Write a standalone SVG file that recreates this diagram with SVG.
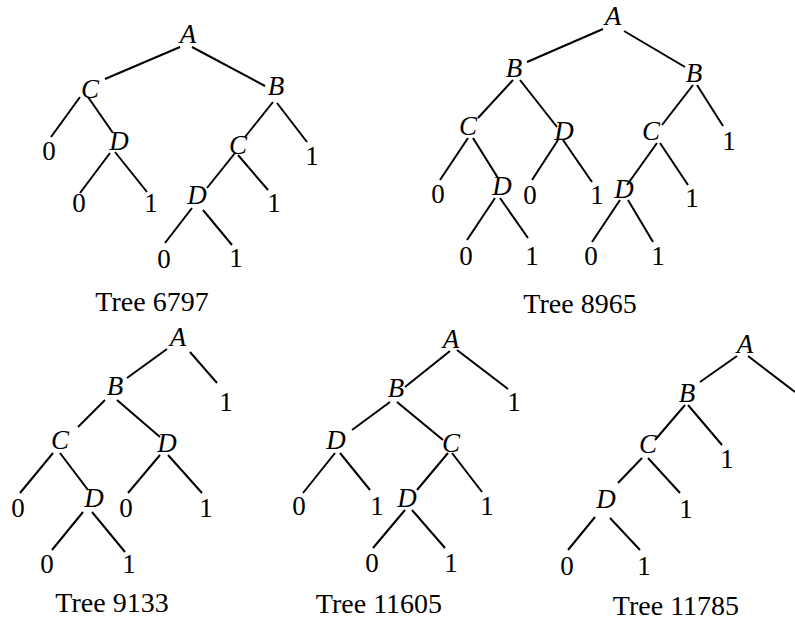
<svg xmlns="http://www.w3.org/2000/svg" width="795" height="623" viewBox="0 0 795 623">
<style>
.e{stroke:#000;stroke-width:2;fill:none;stroke-linecap:butt}
.v{font-family:"Liberation Serif","Times New Roman",serif;font-style:italic;font-size:27px;text-anchor:middle;fill:#000}
.l{font-family:"Liberation Serif","Times New Roman",serif;font-size:27px;text-anchor:middle;fill:#000}
.c{font-family:"Liberation Serif","Times New Roman",serif;font-size:28px;text-anchor:middle;fill:#000}
</style>
<rect width="795" height="623" fill="#fff"/>
<g id="connectors" class="e">
<!-- Tree 6797 -->
<line x1="180" y1="47" x2="105" y2="79"/>
<line x1="192" y1="47" x2="265" y2="86"/>
<line x1="80" y1="97" x2="51" y2="137"/>
<line x1="88" y1="97" x2="113" y2="133"/>
<line x1="110" y1="153" x2="80" y2="193"/>
<line x1="115" y1="152" x2="147" y2="192"/>
<line x1="273" y1="102" x2="245" y2="137"/>
<line x1="277" y1="103" x2="307" y2="142"/>
<line x1="235" y1="153" x2="207" y2="188"/>
<line x1="238" y1="155" x2="268" y2="190"/>
<line x1="192" y1="208" x2="165" y2="243"/>
<line x1="203" y1="210" x2="232" y2="245"/>
<!-- Tree 8965 -->
<line x1="603" y1="29" x2="527" y2="62"/>
<line x1="624" y1="31" x2="685" y2="67"/>
<line x1="513" y1="80" x2="478" y2="118"/>
<line x1="520" y1="80" x2="557" y2="127"/>
<line x1="468" y1="138" x2="440" y2="180"/>
<line x1="473" y1="138" x2="498" y2="178"/>
<line x1="558" y1="140" x2="532" y2="180"/>
<line x1="563" y1="140" x2="592" y2="182"/>
<line x1="495" y1="198" x2="467" y2="240"/>
<line x1="500" y1="198" x2="528" y2="238"/>
<line x1="693" y1="85" x2="662" y2="125"/>
<line x1="697" y1="85" x2="723" y2="126"/>
<line x1="657" y1="143" x2="627" y2="185"/>
<line x1="660" y1="143" x2="688" y2="185"/>
<line x1="620" y1="200" x2="592" y2="242"/>
<line x1="628" y1="200" x2="653" y2="242"/>
<!-- Tree 9133 -->
<line x1="167" y1="349" x2="127" y2="378"/>
<line x1="190" y1="352" x2="217" y2="383"/>
<line x1="105" y1="400" x2="78" y2="427"/>
<line x1="117" y1="400" x2="160" y2="437"/>
<line x1="53" y1="453" x2="20" y2="493"/>
<line x1="60" y1="453" x2="88" y2="490"/>
<line x1="160" y1="455" x2="128" y2="493"/>
<line x1="168" y1="455" x2="202" y2="493"/>
<line x1="83" y1="512" x2="52" y2="550"/>
<line x1="92" y1="512" x2="125" y2="552"/>
<!-- Tree 11605 -->
<line x1="450" y1="351" x2="405" y2="387"/>
<line x1="457" y1="350" x2="508" y2="389"/>
<line x1="390" y1="402" x2="352" y2="430"/>
<line x1="397" y1="402" x2="443" y2="440"/>
<line x1="335" y1="453" x2="303" y2="493"/>
<line x1="340" y1="453" x2="370" y2="490"/>
<line x1="448" y1="453" x2="417" y2="490"/>
<line x1="452" y1="453" x2="482" y2="492"/>
<line x1="405" y1="510" x2="373" y2="548"/>
<line x1="412" y1="510" x2="445" y2="548"/>
<!-- Tree 11785 -->
<line x1="737" y1="356" x2="700" y2="382"/>
<line x1="748" y1="356" x2="795" y2="392"/>
<line x1="685" y1="405" x2="655" y2="440"/>
<line x1="688" y1="405" x2="722" y2="445"/>
<line x1="642" y1="458" x2="618" y2="483"/>
<line x1="648" y1="458" x2="680" y2="493"/>
<line x1="595" y1="517" x2="568" y2="550"/>
<line x1="610" y1="518" x2="640" y2="550"/>
</g>
<g id="tree6797">
<g id="t1-A"><text class="v" x="188" y="43">A</text></g>
<g id="t1-C1"><text class="v" x="90" y="98">C</text></g>
<g id="t1-B"><text class="v" x="276" y="95">B</text></g>
<g id="t1-0a"><text class="l" x="49" y="160">0</text></g>
<g id="t1-D1"><text class="v" x="119" y="150">D</text></g>
<g id="t1-0b"><text class="l" x="79" y="212">0</text></g>
<g id="t1-1a"><text class="l" x="151" y="212">1</text></g>
<g id="t1-C2"><text class="v" x="238" y="154">C</text></g>
<g id="t1-1b"><text class="l" x="312" y="165">1</text></g>
<g id="t1-D2"><text class="v" x="197" y="204">D</text></g>
<g id="t1-1c"><text class="l" x="274" y="212">1</text></g>
<g id="t1-0c"><text class="l" x="164" y="268">0</text></g>
<g id="t1-1d"><text class="l" x="236" y="267">1</text></g>
<g id="t1-cap"><text class="c" x="152" y="311">Tree 6797</text></g>
</g>
<g id="tree8965">
<g id="t2-A"><text class="v" x="613" y="25">A</text></g>
<g id="t2-B1"><text class="v" x="514" y="77">B</text></g>
<g id="t2-B2"><text class="v" x="694" y="82">B</text></g>
<g id="t2-C1"><text class="v" x="468" y="135">C</text></g>
<g id="t2-D1"><text class="v" x="564" y="140">D</text></g>
<g id="t2-0a"><text class="l" x="438" y="203">0</text></g>
<g id="t2-D2"><text class="v" x="502" y="195">D</text></g>
<g id="t2-0b"><text class="l" x="530" y="204">0</text></g>
<g id="t2-1a"><text class="l" x="597" y="204">1</text></g>
<g id="t2-0c"><text class="l" x="466" y="265">0</text></g>
<g id="t2-1b"><text class="l" x="532" y="265">1</text></g>
<g id="t2-C2"><text class="v" x="651" y="140">C</text></g>
<g id="t2-1c"><text class="l" x="729" y="150">1</text></g>
<g id="t2-D3"><text class="v" x="624" y="198">D</text></g>
<g id="t2-1d"><text class="l" x="692" y="207">1</text></g>
<g id="t2-0d"><text class="l" x="591" y="265">0</text></g>
<g id="t2-1e"><text class="l" x="658" y="265">1</text></g>
<g id="t2-cap"><text class="c" x="580" y="313">Tree 8965</text></g>
</g>
<g id="tree9133">
<g id="t3-A"><text class="v" x="178" y="346">A</text></g>
<g id="t3-1a"><text class="l" x="226" y="411">1</text></g>
<g id="t3-B"><text class="v" x="115" y="395">B</text></g>
<g id="t3-C"><text class="v" x="60" y="449">C</text></g>
<g id="t3-D1"><text class="v" x="167" y="452">D</text></g>
<g id="t3-0a"><text class="l" x="18" y="517">0</text></g>
<g id="t3-D2"><text class="v" x="94" y="507">D</text></g>
<g id="t3-0b"><text class="l" x="126" y="517">0</text></g>
<g id="t3-1b"><text class="l" x="206" y="517">1</text></g>
<g id="t3-0c"><text class="l" x="47" y="573">0</text></g>
<g id="t3-1c"><text class="l" x="129" y="573">1</text></g>
<g id="t3-cap"><text class="c" x="112" y="612">Tree 9133</text></g>
</g>
<g id="tree11605">
<g id="t4-A"><text class="v" x="451" y="348">A</text></g>
<g id="t4-1a"><text class="l" x="514" y="411">1</text></g>
<g id="t4-B"><text class="v" x="396" y="397">B</text></g>
<g id="t4-D1"><text class="v" x="336" y="449">D</text></g>
<g id="t4-C"><text class="v" x="451" y="452">C</text></g>
<g id="t4-0a"><text class="l" x="299" y="515">0</text></g>
<g id="t4-1b"><text class="l" x="377" y="515">1</text></g>
<g id="t4-D2"><text class="v" x="407" y="507">D</text></g>
<g id="t4-1c"><text class="l" x="487" y="515">1</text></g>
<g id="t4-0b"><text class="l" x="372" y="572">0</text></g>
<g id="t4-1d"><text class="l" x="451" y="572">1</text></g>
<g id="t4-cap"><text class="c" x="379" y="613">Tree 11605</text></g>
</g>
<g id="tree11785">
<g id="t5-A"><text class="v" x="745" y="353">A</text></g>
<g id="t5-B"><text class="v" x="687" y="402">B</text></g>
<g id="t5-1a"><text class="l" x="727" y="468">1</text></g>
<g id="t5-C"><text class="v" x="648" y="453">C</text></g>
<g id="t5-1b"><text class="l" x="686" y="518">1</text></g>
<g id="t5-D"><text class="v" x="606" y="508">D</text></g>
<g id="t5-0"><text class="l" x="567" y="575">0</text></g>
<g id="t5-1c"><text class="l" x="644" y="575">1</text></g>
<g id="t5-cap"><text class="c" x="676" y="615">Tree 11785</text></g>
</g>
</svg>
